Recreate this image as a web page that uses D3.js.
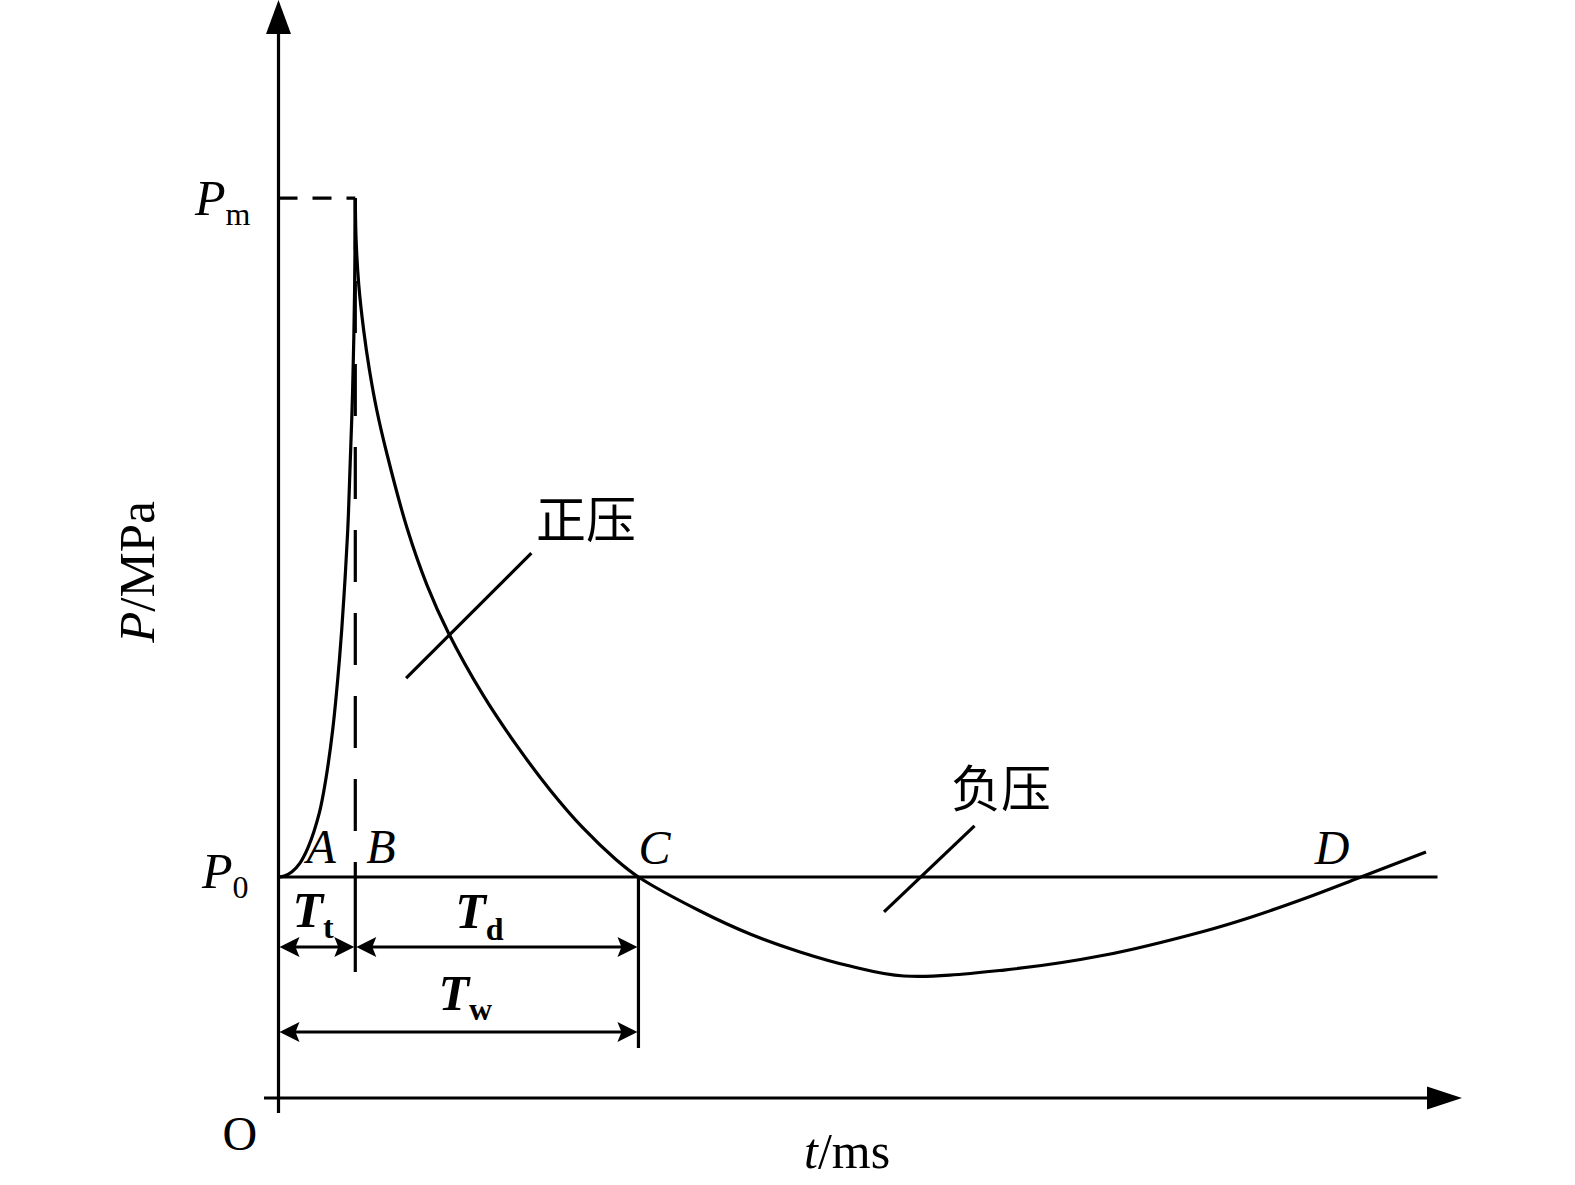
<!DOCTYPE html>
<html><head><meta charset="utf-8">
<script src="https://cdn.jsdelivr.net/npm/d3@7"></script>
<style>body{margin:0;background:#fff}svg{display:block}</style>
</head><body>
<svg id="c" width="1575" height="1185"></svg>
<script>
// ---- data (time in ms, pressure in MPa, schematic) ----
const riseT = [0, 0.5, 1.14, 1.85, 2.57, 3.52, 4.07, 4.67, 5.10, 5.45, 5.73, 5.97, 6.13, 6.39, 6.56, 6.62];
const riseP = [1.0, 1.005, 1.023, 1.063, 1.136, 1.29, 1.439, 1.665, 1.891, 2.118, 2.344, 2.57, 2.796, 3.204, 3.656, 4.072];
const fallT = [6.62, 6.69, 6.92, 7.34, 7.84, 8.47, 9.35, 11.08, 12.80, 14.61, 17.63, 20.56, 23.41, 26.25, 29.18, 31.03,
               36.34, 40.65, 44.96, 49.27, 53.92, 62.54, 71.25, 79.87, 83.75, 88.58, 93.32, 98.92];
const fallP = [4.072, 3.882, 3.679, 3.475, 3.294, 3.113, 2.914, 2.579, 2.321, 2.109, 1.824, 1.593, 1.394, 1.222, 1.075, 1.0,
               0.846, 0.742, 0.661, 0.597, 0.552, 0.579, 0.647, 0.756, 0.817, 0.905, 1.0, 1.113];
const P0 = 1.0, Pm = 4.072;
const tB = 6.62, tC = 31.03, tD = 93.3, tEnd = 100;
const pointLabels = ["A", "B", "C", "D"];
const durationLabels = [["T", "t"], ["T", "d"], ["T", "w"]];
const areaLabels = ["正压", "负压"];
const pressureLabels = [["P", "m"], ["P", "0"]];
const originLabel = "O";
const xTitle = ["t", "/ms"];
const yTitle = ["P", "/MPa"];

// ---- drawing ----
const svg = d3.select("#c");
const serif = "'Liberation Serif','Times New Roman',serif";
const cjk = "'Noto Sans CJK SC','Noto Sans CJK JP',sans-serif";
const x = d3.scaleLinear().domain([0, tEnd]).range([278.5, 1438.5]);
const y = d3.scaleLinear().domain([0, 1]).range([1098, 877]);
const sw = 3.2;
const g = svg.append("g");

function seg(x1, y1, x2, y2, dash) {
  const l = g.append("line").attr("x1", x1).attr("y1", y1).attr("x2", x2).attr("y2", y2)
    .attr("stroke", "#000").attr("stroke-width", sw);
  if (dash) l.attr("stroke-dasharray", dash);
  return l;
}
function tri(pts) {
  g.append("path").attr("d", "M" + pts.map(p => p.join(",")).join("L") + "Z").attr("fill", "#000");
}

// axes
const ox = x(0), oy = y(0);
seg(ox, oy + 15, ox, 30);
tri([[ox, 0], [ox - 12.5, 34], [ox + 12.5, 34]]);
seg(ox - 14.5, oy, 1430, oy);
tri([[1462, oy], [1427, oy - 11.5], [1427, oy + 11.5]]);

// P0 reference line
seg(ox, y(P0), x(tEnd) - 1, y(P0));

// Pm dashed + B dashed line
seg(ox, y(Pm), x(tB), y(Pm), "19,15");
seg(x(tB), y(Pm), x(tB), y(P0), "52,31");
seg(x(tB), y(P0), x(tB), y(P0) + 95);
// C vertical
seg(x(tC), y(P0), x(tC), y(P0) + 171);

// curves
const line = d3.line().x(d => x(d[0])).y(d => y(d[1])).curve(d3.curveCatmullRom.alpha(0.5));
g.append("path").attr("d", line(riseT.map((t, i) => [t, riseP[i]])))
  .attr("fill", "none").attr("stroke", "#000").attr("stroke-width", sw).attr("stroke-linejoin", "round");
g.append("path").attr("d", line(fallT.map((t, i) => [t, fallP[i]])))
  .attr("fill", "none").attr("stroke", "#000").attr("stroke-width", sw).attr("stroke-linejoin", "round");

// dimension arrows
function dimArrow(xa, xb, yy) {
  seg(xa + 10, yy, xb - 10, yy);
  tri([[xa + 1, yy], [xa + 21, yy - 10], [xa + 17, yy], [xa + 21, yy + 10]]);
  tri([[xb - 1, yy], [xb - 21, yy - 10], [xb - 17, yy], [xb - 21, yy + 10]]);
}
const yr1 = y(P0) + 70, yr2 = y(P0) + 155;
dimArrow(x(0), x(tB), yr1);
dimArrow(x(tB), x(tC), yr1);
dimArrow(x(0), x(tC), yr2);

// leader lines
seg(x(11), y(1.9), x(21.8), y(2.465));
seg(x(52.2), y(0.842), x(60), y(1.231));

// ---- text ----
function subText(xx, yy, main, sub, opts) {
  const t = g.append("text").attr("x", xx).attr("y", yy)
    .attr("font-family", serif).attr("font-size", opts.size || 50)
    .attr("text-anchor", opts.anchor || "start");
  t.append("tspan").text(main).attr("font-style", "italic").attr("font-weight", opts.bold ? "bold" : "normal");
  t.append("tspan").text(sub).attr("font-style", "normal").attr("font-weight", opts.bold ? "bold" : "normal")
    .attr("font-size", opts.subSize || 32).attr("dy", opts.dy || 10);
  return t;
}
// Pm, P0
subText(x(0) - 28, y(Pm) + 17, pressureLabels[0][0], pressureLabels[0][1], {anchor: "end", dy: 10});
subText(x(0) - 30, y(P0) + 11, pressureLabels[1][0], pressureLabels[1][1], {anchor: "end", dy: 10});

// point labels
const plPos = [[x(0) + 28, y(P0) - 14], [x(tB) + 11, y(P0) - 14], [x(tC) + 0, y(P0) - 13], [x(tD) - 46, y(P0) - 13]];
pointLabels.forEach((s, i) => {
  g.append("text").attr("x", plPos[i][0]).attr("y", plPos[i][1]).text(s)
    .attr("font-family", serif).attr("font-size", 48).attr("font-style", "italic");
});

// durations
subText(x(0) + 14, y(P0) + 50, durationLabels[0][0], durationLabels[0][1], {bold: true, dy: 11});
subText(x(tB) + 100, y(P0) + 51, durationLabels[1][0], durationLabels[1][1], {bold: true, dy: 12});
subText(x(0) + 160, y(P0) + 133, durationLabels[2][0], durationLabels[2][1], {bold: true, dy: 10});

// area labels
g.append("text").attr("x", x(22.2)).attr("y", y(2.534)).text(areaLabels[0])
  .attr("font-family", cjk).attr("font-size", 50);
g.append("text").attr("x", x(57.97)).attr("y", y(1.317)).text(areaLabels[1])
  .attr("font-family", cjk).attr("font-size", 50);

// origin
g.append("text").attr("x", x(0) - 56).attr("y", oy + 52).text(originLabel)
  .attr("font-family", serif).attr("font-size", 48);

// x title
const xt = g.append("text").attr("x", 804).attr("y", oy + 70)
  .attr("font-family", serif).attr("font-size", 50);
xt.append("tspan").text(xTitle[0]).attr("font-style", "italic");
xt.append("tspan").text(xTitle[1]);

// y title
const yt = g.append("text").attr("transform", "translate(154,572) rotate(-90)")
  .attr("text-anchor", "middle").attr("font-family", serif).attr("font-size", 51);
yt.append("tspan").text(yTitle[0]).attr("font-style", "italic");
yt.append("tspan").text(yTitle[1]);
</script>
</body></html>
